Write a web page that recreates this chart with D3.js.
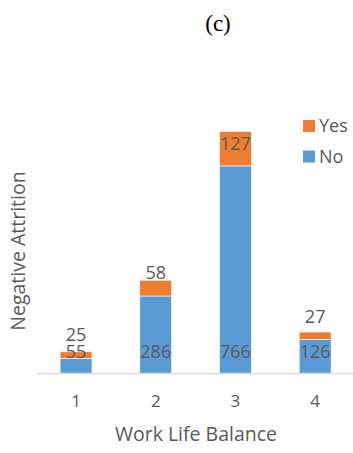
<!DOCTYPE html>
<html><head><meta charset="utf-8">
<script src="https://cdn.jsdelivr.net/npm/d3@7"></script>
<style>body{margin:0;background:#fff}svg{display:block}</style>
</head><body>
<script>
const categories = ["1", "2", "3", "4"];
const noValues = [55, 286, 766, 126];
const yesValues = [25, 58, 127, 27];
const seriesNames = ["No", "Yes"];
const colors = {No: "#5B9BD5", Yes: "#ED7D31"};
// vertical offset (px) of "Yes" labels relative to bar top (layout only)
const yesLabelOffset = [-17, -8, 12, -15];

const W = 353, H = 453;
const svg = d3.select("body").append("svg").attr("width", W).attr("height", H);
const font = "'Open Sans', sans-serif";

const x = d3.scaleBand().domain(categories).range([36.2, 355]).paddingInner(0.6).paddingOuter(0.3);
const y = d3.scaleLinear().domain([0, 1000]).range([373.5, 102.5]);

const data = categories.map((c, i) => ({cat: c, No: noValues[i], Yes: yesValues[i], off: yesLabelOffset[i]}));
const stack = d3.stack().keys(seriesNames)(data);

svg.append("g").selectAll("g").data(stack).join("g")
  .attr("fill", d => colors[d.key])
  .selectAll("rect").data(d => d).join("rect")
  .attr("x", d => x(d.data.cat))
  .attr("width", x.bandwidth())
  .attr("y", d => y(d[1]))
  .attr("height", d => y(d[0]) - y(d[1]))
  .attr("stroke", "#fff").attr("stroke-width", 0.6);

// axis
const xAxis = svg.append("g").attr("transform", `translate(0,${y(0)})`)
  .call(d3.axisBottom(x).tickSize(0).tickPadding(21));
xAxis.select(".domain").attr("stroke", "#d9d9d9").attr("stroke-width", 1.5)
  .attr("d", "M37,0H353");
xAxis.selectAll("text").attr("font-family", font).attr("font-size", 17).attr("fill", "#595959");

// No labels (inside base)
svg.append("g").selectAll("text").data(data).join("text")
  .attr("x", d => x(d.cat) + x.bandwidth() / 2)
  .attr("y", y(0) - 22)
  .attr("dy", "0.35em")
  .attr("text-anchor", "middle")
  .attr("font-family", font).attr("font-size", 18).attr("fill", "#595959")
  .text(d => d.No);

// Yes labels
svg.append("g").selectAll("text").data(data).join("text")
  .attr("x", d => x(d.cat) + x.bandwidth() / 2)
  .attr("y", d => y(d.No + d.Yes) + d.off)
  .attr("dy", "0.35em")
  .attr("text-anchor", "middle")
  .attr("font-family", font).attr("font-size", 18).attr("fill", "#595959")
  .text(d => d.Yes);

// title
svg.append("text").attr("x", 218).attr("y", 23).attr("dy", "0.35em")
  .attr("text-anchor", "middle").attr("font-family", "'Liberation Serif', 'Times New Roman', serif")
  .attr("font-size", 23).attr("fill", "#000").text("(c)");

// axis titles
svg.append("text").attr("x", 196).attr("y", 434).attr("dy", "0.35em")
  .attr("text-anchor", "middle").attr("font-family", font).attr("font-size", 19.5)
  .attr("fill", "#595959").text("Work Life Balance");
svg.append("text").attr("transform", "translate(18.5,251) rotate(-90)").attr("dy", "0.35em")
  .attr("text-anchor", "middle").attr("font-family", font).attr("font-size", 19.5)
  .attr("fill", "#595959").text("Negative Attrition");

// legend
const legendItems = ["Yes", "No"];
const lg = svg.append("g").selectAll("g").data(legendItems).join("g")
  .attr("transform", (d, i) => `translate(303,${126 + i * 30.5})`);
lg.append("rect").attr("x", 0).attr("y", -6).attr("width", 12).attr("height", 12)
  .attr("fill", d => colors[d]);
lg.append("text").attr("x", 16).attr("y", 0).attr("dy", "0.35em")
  .attr("font-family", font).attr("font-size", 18).attr("fill", "#595959").text(d => d);
</script>
</body></html>
